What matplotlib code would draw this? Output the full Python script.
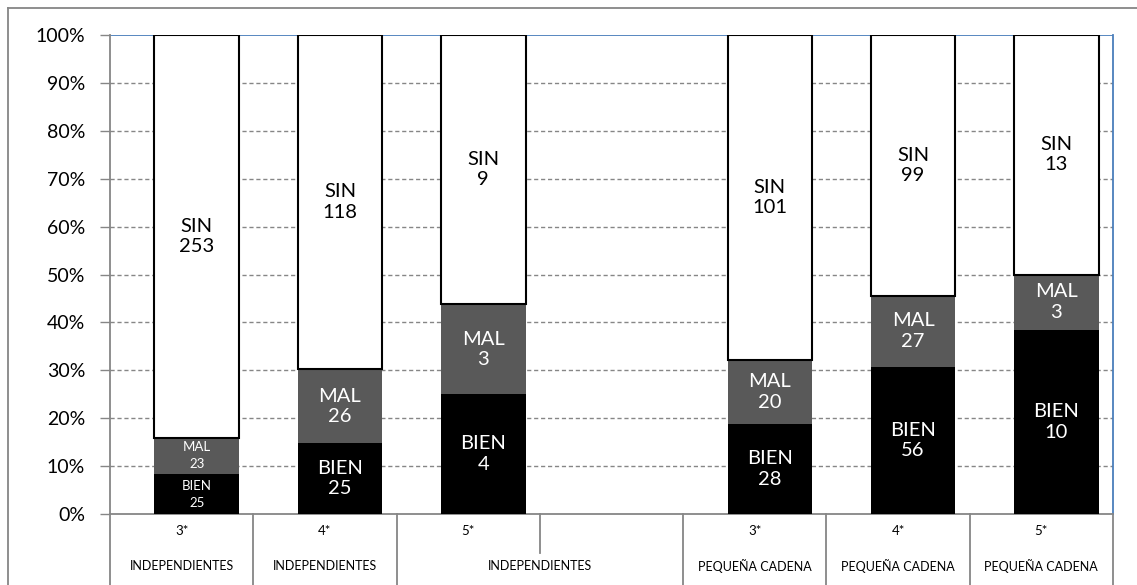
import matplotlib
matplotlib.use("Agg")
import matplotlib.pyplot as plt
from matplotlib.lines import Line2D
import numpy as np

plt.rcParams['font.family'] = ['Lato', 'DejaVu Sans']

# Hotel categories (slot 3 is an empty gap between the two groups)
stars = ["3*", "4*", "5*", "", "3*", "4*", "5*"]
groups = ["INDEPENDIENTES", "INDEPENDIENTES", "INDEPENDIENTES",
          "PEQUEÑA CADENA", "PEQUEÑA CADENA", "PEQUEÑA CADENA"]
group_spans = [(0, 1), (1, 2), (2, 4), (4, 5), (5, 6), (6, 7)]

# Counts per slot (None = empty slot)
bien = [25, 25, 4, None, 28, 56, 10]
mal = [23, 26, 3, None, 20, 27, 3]
sin = [253, 118, 9, None, 101, 99, 13]

W, H = 1137, 585
fig = plt.figure(figsize=(W / 100, H / 100), dpi=100)
ax_l, ax_r, ax_b, ax_t = 110, 1113, 514, 35
ax = fig.add_axes([ax_l / W, (H - ax_b) / H, (ax_r - ax_l) / W, (ax_b - ax_t) / H])

ax.set_xlim(0, 7)
ax.set_ylim(0, 1)

bar_w = 0.59
offset = 0.605
for i in range(7):
    if bien[i] is None:
        continue
    tot = bien[i] + mal[i] + sin[i]
    pb, pm, ps = bien[i] / tot, mal[i] / tot, sin[i] / tot
    x = i + offset
    ax.bar(x, pb, width=bar_w, color="black", zorder=3)
    ax.bar(x, pm, bottom=pb, width=bar_w, color="#595959", zorder=3)
    ax.bar(x, ps, bottom=pb + pm, width=bar_w, color="white",
           edgecolor="black", linewidth=1.5, zorder=3)
    if i == 0:
        fs, ls = 9.5, 1.5
    else:
        fs, ls = 14.5, 1.25
    ax.text(x, pb / 2, f"BIEN\n{bien[i]}", ha="center", va="center",
            color="white", fontsize=fs, linespacing=ls, zorder=4)
    ax.text(x, pb + pm / 2, f"MAL\n{mal[i]}", ha="center", va="center",
            color="white", fontsize=fs, linespacing=ls, zorder=4)
    ax.text(x, pb + pm + ps / 2, f"SIN\n{sin[i]}", ha="center", va="center",
            color="black", fontsize=14.5, linespacing=1.25, zorder=4)

# Y axis
ticks = np.arange(0, 1.01, 0.1)
ax.set_yticks(ticks)
ax.set_yticklabels([f"{int(round(t * 100))}%" for t in ticks], fontsize=14)
ax.tick_params(axis="y", length=7, width=1, color="#868686", pad=11, direction="out")
ax.set_xticks([])
for t in ticks[1:-1]:
    ax.axhline(t, color="#868686", linestyle=(0, (3, 2)), linewidth=1, zorder=1)
ax.axhline(1.0, color="#4a7ebb", linewidth=1.3, zorder=2)

for s in ["left", "bottom"]:
    ax.spines[s].set_color("#868686")
    ax.spines[s].set_linewidth(1.3)
ax.spines["top"].set_visible(False)
ax.spines["right"].set_color("#4a7ebb")
ax.spines["right"].set_linewidth(1.3)

# Multi-level category axis
tr = ax.get_xaxis_transform()
def ypix(py):
    # axes-fraction y for a figure pixel row
    return (ax_b - py) / (ax_b - ax_t)

for b in [0, 1, 2, 4, 5, 6, 7]:
    ax.add_line(Line2D([b, b], [0, ypix(H + 5)], transform=tr, color="#868686",
                       linewidth=1.3, clip_on=False))
ax.add_line(Line2D([3, 3], [0, ypix(553)], transform=tr, color="#868686",
                   linewidth=1.3, clip_on=False))

for i, s in enumerate(stars):
    if s:
        ax.text(i + 0.5, ypix(531), s, transform=tr, ha="center", va="center",
                fontsize=9.5)
for g, (a, b) in zip(groups, group_spans):
    ax.text((a + b) / 2, ypix(566), g, transform=tr, ha="center", va="center",
            fontsize=9)

# Outer chart frame
fig.add_artist(Line2D([8 / W, 8 / W], [0, 1 - 8 / H], transform=fig.transFigure,
                      color="#868686", linewidth=1.3))
fig.add_artist(Line2D([8 / W, 1], [1 - 8 / H, 1 - 8 / H], transform=fig.transFigure,
                      color="#868686", linewidth=1.3))

fig.savefig("out.png", dpi=100)
